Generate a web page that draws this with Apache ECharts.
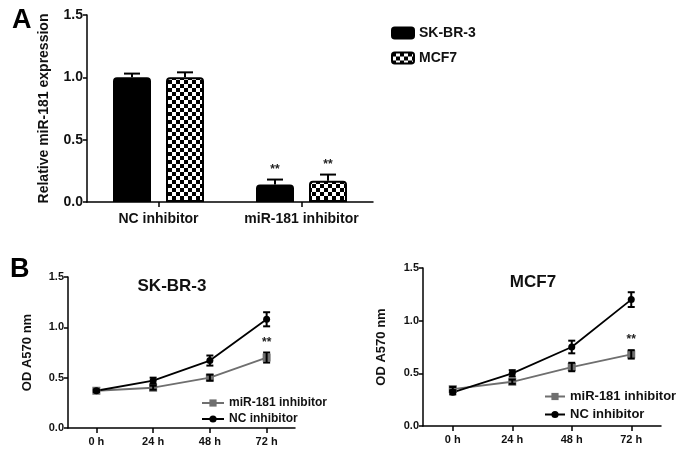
<!DOCTYPE html>
<html>
<head>
<meta charset="utf-8">
<script src="https://cdn.jsdelivr.net/npm/echarts@6/dist/echarts.min.js"></script>
<style>
  html, body { margin: 0; padding: 0; background: #fff; }
  #chart { width: 677px; height: 451px; }
</style>
</head>
<body>
<div id="chart"></div>
<script>
// panel A: relative expression
var exprCategories = ['NC inhibitor', 'miR-181 inhibitor'];
var skbr3Expr = [1.00, 0.14];
var skbr3ExprErr = [0.03, 0.04];
var mcf7Expr = [1.00, 0.17];
var mcf7ExprErr = [0.04, 0.05];
var exprSig = ['', '**'];

// panel B: growth curves
var timePoints = ['0 h', '24 h', '48 h', '72 h'];
var skInhib = [0.37, 0.40, 0.50, 0.70];
var skInhibErr = [0.01, 0.02, 0.03, 0.05];
var skNC = [0.37, 0.47, 0.67, 1.08];
var skNCErr = [0.01, 0.03, 0.05, 0.07];
var mcInhib = [0.35, 0.42, 0.56, 0.68];
var mcInhibErr = [0.02, 0.02, 0.04, 0.04];
var mcNC = [0.32, 0.50, 0.75, 1.20];
var mcNCErr = [0.02, 0.03, 0.06, 0.07];
var growthSig = ['', '', '', '**'];

var FONT = 'Liberation Sans, Arial, sans-serif';
var GRAY = '#6f6f6f';
var BAR_W = 38;
var BAR_GAP = 15;

// checker pattern for MCF7 bars
var pat = document.createElement('canvas');
pat.width = 8; pat.height = 8;
var pc = pat.getContext('2d');
pc.fillStyle = '#fff'; pc.fillRect(0, 0, 8, 8);
pc.fillStyle = '#000'; pc.fillRect(0, 0, 4, 4); pc.fillRect(4, 4, 4, 4);

function errorSeries(xi, yi, vals, errs, offset, capW, both, sig, fontSize) {
  return {
    type: 'custom',
    xAxisIndex: xi,
    yAxisIndex: yi,
    z: 5,
    silent: true,
    data: vals.map(function (v, i) { return [i, v, errs[i], i]; }),
    encode: { x: 0, y: 1 },
    renderItem: function (params, api) {
      var i = api.value(0), v = api.value(1), e = api.value(2);
      var top = api.coord([i, v + e]);
      var bot = api.coord([i, both ? v - e : v]);
      var x = top[0] + offset;
      var st = { stroke: '#000', lineWidth: 2 };
      var kids = [
        { type: 'line', shape: { x1: x, y1: top[1], x2: x, y2: bot[1] }, style: st },
        { type: 'line', shape: { x1: x - capW / 2, y1: top[1], x2: x + capW / 2, y2: top[1] }, style: st }
      ];
      if (both) {
        kids.push({ type: 'line', shape: { x1: x - capW / 2, y1: bot[1], x2: x + capW / 2, y2: bot[1] }, style: st });
      }
      var s = sig[api.value(3)];
      if (s) {
        kids.push({ type: 'text', style: { text: s, x: x, y: top[1] - 4, align: 'center', verticalAlign: 'bottom',
          font: 'bold ' + fontSize + 'px ' + FONT, fill: '#222' } });
      }
      return { type: 'group', children: kids };
    }
  };
}

function valueAxis(gi, name, gap, fs, nfs) {
  return {
    type: 'value', gridIndex: gi, min: 0, max: 1.5, interval: 0.5,
    name: name, nameLocation: 'middle', nameGap: gap,
    nameTextStyle: { fontFamily: FONT, fontWeight: 'bold', fontSize: nfs, color: '#111' },
    axisLine: { show: true, lineStyle: { color: '#000', width: 1.5 } },
    axisTick: { show: true, length: 4, lineStyle: { color: '#000', width: 1.5 } },
    axisLabel: { fontFamily: FONT, fontWeight: 'bold', fontSize: fs, color: '#111', margin: 4,
      formatter: function (v) { return v.toFixed(1); } },
    splitLine: { show: false }
  };
}

function catAxis(gi, data, fs, margin) {
  return {
    type: 'category', gridIndex: gi, data: data,
    axisLine: { show: true, lineStyle: { color: '#000', width: 1.5 } },
    axisTick: { show: true, alignWithLabel: true, length: 5, lineStyle: { color: '#000', width: 1.5 } },
    axisLabel: { interval: 0, hideOverlap: false, fontFamily: FONT, fontWeight: 'bold', fontSize: fs, color: '#111', margin: margin },
    splitLine: { show: false }
  };
}

var chart = echarts.init(document.getElementById('chart'), null, { renderer: 'canvas' });
var barOff = (BAR_W + BAR_GAP) / 2;

chart.setOption({
  animation: false,
  backgroundColor: '#fff',
  title: [
    { text: 'A', left: 7, top: 2, textStyle: { fontFamily: FONT, fontWeight: 'bold', fontSize: 27, color: '#000' } },
    { text: 'B', left: 5, top: 251, textStyle: { fontFamily: FONT, fontWeight: 'bold', fontSize: 27, color: '#000' } },
    { text: 'SK-BR-3', left: 167, top: 273, textAlign: 'center', textStyle: { fontFamily: FONT, fontWeight: 'bold', fontSize: 17, color: '#111' } },
    { text: 'MCF7', left: 528, top: 269, textAlign: 'center', textStyle: { fontFamily: FONT, fontWeight: 'bold', fontSize: 17, color: '#111' } }
  ],
  legend: [
    { data: ['SK-BR-3', 'MCF7'], orient: 'vertical', left: 386, top: 21, icon: 'roundRect',
      itemWidth: 22, itemHeight: 11, itemGap: 11, selectedMode: false,
      textStyle: { fontFamily: FONT, fontWeight: 'bold', fontSize: 14, color: '#111' } },
    { data: ['miR-181 inhibitor', 'NC inhibitor'], orient: 'vertical', left: 196, top: 392,
      itemWidth: 22, itemHeight: 9, itemGap: 4, selectedMode: false,
      textStyle: { fontFamily: FONT, fontWeight: 'bold', fontSize: 12, color: '#111' } },
    { data: ['miR-181 inhibitor', 'NC inhibitor'], orient: 'vertical', left: 539, top: 385,
      itemWidth: 20, itemHeight: 9, itemGap: 5, selectedMode: false,
      textStyle: { fontFamily: FONT, fontWeight: 'bold', fontSize: 13, color: '#111' } }
  ],
  grid: [
    { left: 87, top: 15, width: 286, height: 187 },
    { left: 68, top: 277, width: 227, height: 151 },
    { left: 423, top: 268, width: 238, height: 158 }
  ],
  xAxis: [
    catAxis(0, exprCategories, 14, 10),
    catAxis(1, timePoints, 11, 8),
    catAxis(2, timePoints, 11, 8)
  ],
  yAxis: [
    valueAxis(0, 'Relative miR-181 expression', 36, 14, 14),
    valueAxis(1, 'OD A570 nm', 34, 11, 13),
    valueAxis(2, 'OD A570 nm', 35, 11, 13)
  ],
  series: [
    { name: 'SK-BR-3', type: 'bar', xAxisIndex: 0, yAxisIndex: 0, data: skbr3Expr,
      barWidth: BAR_W, barGap: (BAR_GAP / BAR_W * 100) + '%',
      itemStyle: { color: '#000', borderColor: '#000', borderWidth: 2, borderRadius: [3, 3, 0, 0] } },
    { name: 'MCF7', type: 'bar', xAxisIndex: 0, yAxisIndex: 0, data: mcf7Expr,
      barWidth: BAR_W,
      itemStyle: { color: { image: pat, repeat: 'repeat' }, borderColor: '#000', borderWidth: 2, borderRadius: [3, 3, 0, 0] } },
    errorSeries(0, 0, skbr3Expr, skbr3ExprErr, -barOff, 16, false, exprSig, 12),
    errorSeries(0, 0, mcf7Expr, mcf7ExprErr, barOff, 16, false, exprSig, 12),

    { name: 'miR-181 inhibitor', type: 'line', xAxisIndex: 1, yAxisIndex: 1, data: skInhib,
      symbol: 'rect', symbolSize: 8, lineStyle: { color: GRAY, width: 1.8 }, itemStyle: { color: GRAY } },
    { name: 'NC inhibitor', type: 'line', xAxisIndex: 1, yAxisIndex: 1, data: skNC,
      symbol: 'circle', symbolSize: 7, lineStyle: { color: '#000', width: 1.8 }, itemStyle: { color: '#000' } },
    errorSeries(1, 1, skInhib, skInhibErr, 0, 7, true, growthSig, 12),
    errorSeries(1, 1, skNC, skNCErr, 0, 7, true, ['', '', '', ''], 12),

    { name: 'miR-181 inhibitor', type: 'line', xAxisIndex: 2, yAxisIndex: 2, data: mcInhib,
      symbol: 'rect', symbolSize: 8, lineStyle: { color: GRAY, width: 1.8 }, itemStyle: { color: GRAY } },
    { name: 'NC inhibitor', type: 'line', xAxisIndex: 2, yAxisIndex: 2, data: mcNC,
      symbol: 'circle', symbolSize: 7, lineStyle: { color: '#000', width: 1.8 }, itemStyle: { color: '#000' } },
    errorSeries(2, 2, mcInhib, mcInhibErr, 0, 7, true, growthSig, 12),
    errorSeries(2, 2, mcNC, mcNCErr, 0, 7, true, ['', '', '', ''], 12)
  ]
});
</script>
</body>
</html>
